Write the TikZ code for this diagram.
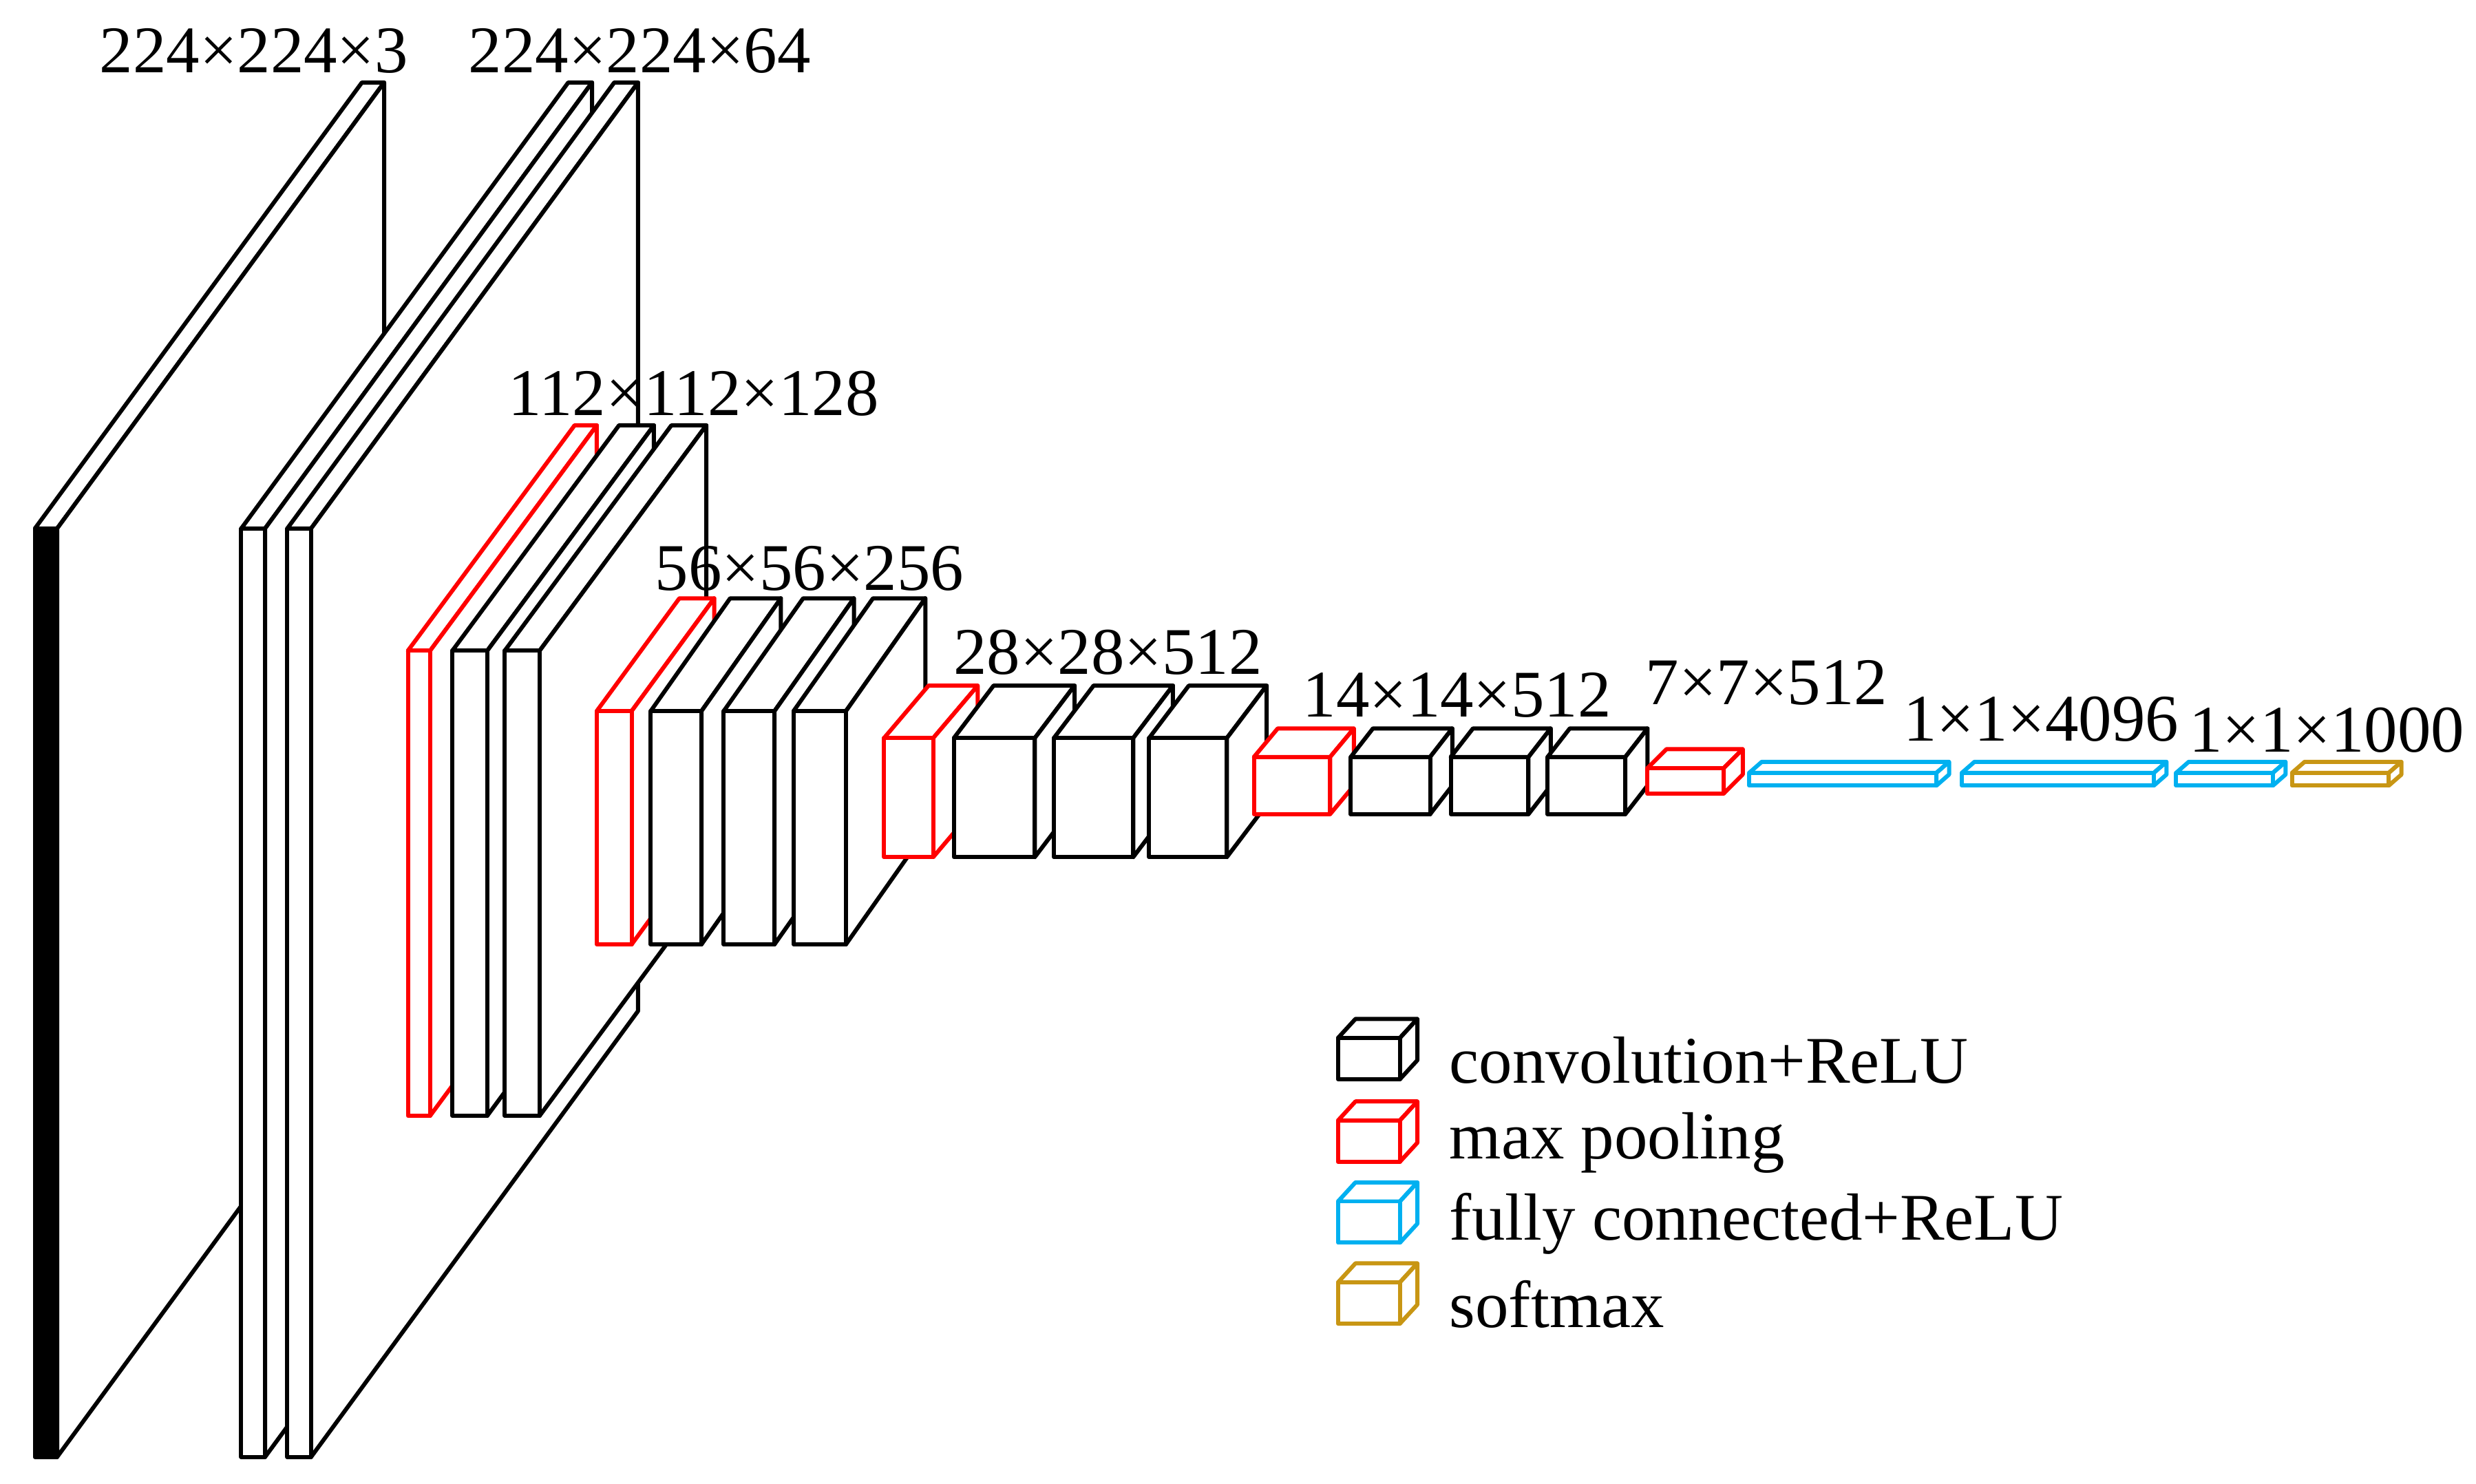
\documentclass[tikz,border=0pt]{standalone}
\usepackage{fontspec}
\setmainfont{Liberation Serif}
\definecolor{fcblue}{RGB}{0,176,240}
\definecolor{smgold}{RGB}{200,150,20}
\newcommand\cub[8]{%
 \filldraw[draw=#7,fill=white] (#1,#2) -- (#1+#5,#2-#6) -- (#3+#5,#2-#6) -- (#3,#2) -- cycle;
 \filldraw[draw=#7,fill=white] (#3,#2) -- (#3+#5,#2-#6) -- (#3+#5,#4-#6) -- (#3,#4) -- cycle;
 \filldraw[draw=#7,fill=#8] (#1,#2) rectangle (#3,#4);}
\begin{document}
\begin{tikzpicture}[x=1pt,y=-1pt,line width=2.6pt,line join=round,
 lab/.style={font=\fontsize{42}{46}\selectfont,inner sep=0pt}]
\useasboundingbox (0,0) rectangle (1560,935);
\cub{22}{333}{36}{918}{206}{281}{black}{black}
\cub{152}{333}{167}{918}{206}{281}{black}{white}
\cub{181}{333}{196}{918}{206}{281}{black}{white}
\cub{257}{410}{271}{703}{105}{142}{red}{white}
\cub{285}{410}{307}{703}{105}{142}{black}{white}
\cub{318}{410}{340}{703}{105}{142}{black}{white}
\cub{376}{448}{398}{595}{52}{71}{red}{white}
\cub{410}{448}{442}{595}{50}{71}{black}{white}
\cub{456}{448}{488}{595}{50}{71}{black}{white}
\cub{500}{448}{533}{595}{50}{71}{black}{white}
\cub{557}{465}{588}{540}{28}{33}{red}{white}
\cub{601}{465}{652}{540}{25}{33}{black}{white}
\cub{664}{465}{714}{540}{25}{33}{black}{white}
\cub{724}{465}{773}{540}{25}{33}{black}{white}
\cub{790}{477}{838}{513}{15}{18}{red}{white}
\cub{851}{477}{901}{513}{14}{18}{black}{white}
\cub{914}{477}{963}{513}{14}{18}{black}{white}
\cub{975}{477}{1024}{513}{14}{18}{black}{white}
\cub{1038}{484}{1086}{500}{12}{12}{red}{white}
\cub{1102}{487}{1220}{495}{8}{7}{fcblue}{white}
\cub{1236}{487}{1357}{495}{8}{7}{fcblue}{white}
\cub{1371}{487}{1432}{495}{8}{7}{fcblue}{white}
\cub{1444}{487}{1505}{495}{8}{7}{smgold}{white}
\node[lab] (l1) at (160,32) {224×224×3};
\node[lab] (l2) at (403,32) {224×224×64};
\node[lab] (l3) at (437,248) {112×112×128};
\node[lab] (l4) at (510,358) {56×56×256};
\node[lab] (l5) at (698,411) {28×28×512};
\node[lab] (l6) at (918,438) {14×14×512};
\node[lab] (l7) at (1113,430) {7×7×512};
\node[lab] (l8) at (1286,453) {1×1×4096};
\node[lab] (l9) at (1466,460) {1×1×1000};
\cub{843}{654}{882}{680}{11}{12}{black}{white}
\cub{843}{706}{882}{732}{11}{12}{red}{white}
\cub{843}{757}{882}{783}{11}{12}{fcblue}{white}
\cub{843}{808}{882}{834}{11}{12}{smgold}{white}
\node[lab,anchor=west] (g1) at (912,668) {convolution+ReLU};
\node[lab,anchor=west] (g2) at (912,720) {max pooling};
\node[lab,anchor=west] (g3) at (912,771) {fully connected+ReLU};
\node[lab,anchor=west] (g4) at (912,822) {softmax};
\end{tikzpicture}
\end{document}
